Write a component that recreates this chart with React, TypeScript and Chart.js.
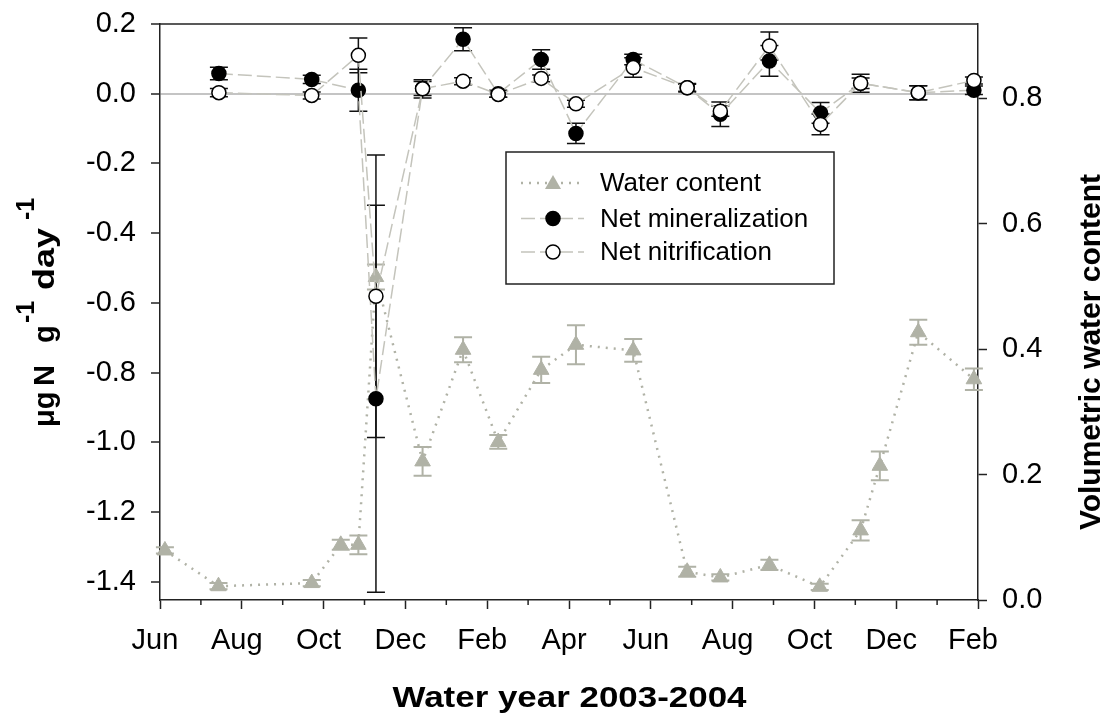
import React, { useEffect, useRef } from 'react';
import { Chart, registerables } from 'chart.js';

Chart.register(...registerables);

// x values are months since 1 June 2003
const monthLabels = ['Jun', 'Aug', 'Oct', 'Dec', 'Feb', 'Apr', 'Jun', 'Aug', 'Oct', 'Dec', 'Feb'];
const leftTicks = [-1.4, -1.2, -1.0, -0.8, -0.6, -0.4, -0.2, 0.0, 0.2];
const rightTicks = [0.0, 0.2, 0.4, 0.6, 0.8];

const nDates = [1.44, 3.71, 4.85, 5.28, 6.42, 7.41, 8.27, 9.32, 10.17, 11.57, 12.89, 13.7, 14.9, 16.15, 17.13, 18.54, 19.9];
const mineral = [0.058, 0.041, 0.01, -0.875, 0.015, 0.156, 0.0, 0.098, -0.114, 0.098, 0.017, -0.059, 0.094, -0.055, 0.03, 0.003, 0.01];
const mineralErr = [0.018, 0.012, 0.06, 0.555, 0.02, 0.033, 0.01, 0.028, 0.029, 0.015, 0.012, 0.035, 0.044, 0.03, 0.026, 0.02, 0.012];
const nitrif = [0.003, -0.005, 0.11, -0.581, 0.014, 0.036, -0.002, 0.044, -0.029, 0.075, 0.017, -0.05, 0.137, -0.088, 0.03, 0.003, 0.038];
const nitrifErr = [0.012, 0.01, 0.05, 0.405, 0.026, 0.01, 0.008, 0.01, 0.01, 0.028, 0.01, 0.015, 0.04, 0.03, 0.015, 0.02, 0.01];

const wDates = [0.12, 1.43, 3.71, 4.42, 4.85, 5.28, 6.42, 7.41, 8.27, 9.32, 10.17, 11.57, 12.89, 13.7, 14.9, 16.13, 17.13, 17.6, 18.54, 19.9];
const water = [0.079, 0.022, 0.027, 0.088, 0.088, 0.515, 0.221, 0.399, 0.252, 0.367, 0.407, 0.398, 0.045, 0.036, 0.056, 0.021, 0.111, 0.214, 0.427, 0.352];
const waterErr = [0.005, 0.005, 0.005, 0.008, 0.015, 0.02, 0.023, 0.02, 0.011, 0.021, 0.031, 0.018, 0.008, 0.005, 0.008, 0.005, 0.016, 0.023, 0.02, 0.017];

const FONT = "'Liberation Sans', Arial, sans-serif";
const GRAY = '#b0b2a6';
const DASHGRAY = '#c4c4bc';
const AXIS = '#222';

function fmt(v: number) {
  const r = Math.round(v * 10) / 10;
  return (Math.abs(r) < 1e-9 ? 0 : r).toFixed(1);
}

function fitBox(width?: number, height?: number) {
  return (s: any) => {
    if (width !== undefined) s.width = width;
    if (height !== undefined) s.height = height;
    s.paddingTop = 0;
    s.paddingBottom = 0;
    s.paddingLeft = 0;
    s.paddingRight = 0;
  };
}

export default function App() {
  const ref = useRef<HTMLCanvasElement>(null);

  useEffect(() => {
    const canvas = ref.current!;

    const plugin = {
      id: 'extras',
      beforeDatasetsDraw(chart: any) {
        const ctx = chart.ctx;
        const xs = chart.scales.x;
        const draw = (dx: number[], ys: number[], es: number[], scale: any, color: string, w: number) => {
          ctx.save();
          ctx.strokeStyle = color;
          ctx.lineWidth = w;
          dx.forEach((xv, i) => {
            const px = xs.getPixelForValue(xv);
            const t = scale.getPixelForValue(ys[i] + es[i]);
            const b = scale.getPixelForValue(ys[i] - es[i]);
            ctx.beginPath();
            ctx.moveTo(px, t); ctx.lineTo(px, b);
            ctx.moveTo(px - 9, t); ctx.lineTo(px + 9, t);
            ctx.moveTo(px - 9, b); ctx.lineTo(px + 9, b);
            ctx.stroke();
          });
          ctx.restore();
        };
        draw(wDates, water, waterErr, chart.scales.y2, GRAY, 2);
        draw(nDates, mineral, mineralErr, chart.scales.y, '#111', 1.5);
        draw(nDates, nitrif, nitrifErr, chart.scales.y, '#111', 1.5);
      },
      afterDraw(chart: any) {
        const ctx = chart.ctx;
        const { left, right, top, bottom } = chart.chartArea;
        const xs = chart.scales.x;
        ctx.save();
        // top frame
        ctx.strokeStyle = AXIS;
        ctx.lineWidth = 1.5;
        ctx.beginPath();
        ctx.moveTo(left, top); ctx.lineTo(right, top);
        ctx.stroke();
        // minor monthly ticks
        for (let m = 1; m < 20; m += 2) {
          const px = xs.getPixelForValue(m);
          ctx.beginPath();
          ctx.moveTo(px, bottom); ctx.lineTo(px, bottom + 5);
          ctx.stroke();
        }
        ctx.fillStyle = '#000';
        // x title
        ctx.font = `bold 30px ${FONT}`;
        ctx.textBaseline = 'alphabetic';
        ctx.textAlign = 'center';
        const xt = 'Water year 2003-2004';
        const w = ctx.measureText(xt).width;
        ctx.save();
        ctx.translate(569.5, 707);
        ctx.scale(354 / w, 1);
        ctx.fillText(xt, 0, 0);
        ctx.restore();
        // right title
        ctx.save();
        ctx.translate(1100, 352);
        ctx.rotate(-Math.PI / 2);
        ctx.font = `bold 30px ${FONT}`;
        ctx.textAlign = 'center';
        ctx.fillText('Volumetric water content', 0, 0);
        ctx.restore();
        // left title with superscripts
        ctx.save();
        ctx.translate(54, 427);
        ctx.rotate(-Math.PI / 2);
        ctx.textAlign = 'left';
        const pieces: [string, number, number, number][] = [
          ['μg', 0, 29, 0],
          ['N', 41, 29, 0],
          ['g', 84, 29, 0],
          ['-1', 104, 25, -20],
          ['day', 137, 29, 0],
          ['-1', 207, 25, -20],
        ];
        pieces.forEach(([t, off, sz, dy]) => {
          ctx.font = `bold ${sz}px ${FONT}`;
          if (t === 'day') {
            const dw = ctx.measureText(t).width;
            ctx.save();
            ctx.translate(off, dy);
            ctx.scale(62 / dw, 1);
            ctx.fillText(t, 0, 0);
            ctx.restore();
          } else {
            ctx.fillText(t, off, dy);
          }
        });
        ctx.restore();
        // legend
        const lx = 506, ly = 152, lw = 328, lh = 132;
        ctx.fillStyle = '#fff';
        ctx.fillRect(lx, ly, lw, lh);
        ctx.strokeStyle = AXIS;
        ctx.lineWidth = 1.5;
        ctx.strokeRect(lx, ly, lw, lh);
        const rows = [183, 218.5, 252];
        const labels = chart.data.datasets.map((d: any) => d.label);
        rows.forEach((ry, i) => {
          ctx.save();
          ctx.lineWidth = i === 0 ? 2.5 : 1.5;
          ctx.strokeStyle = i === 0 ? GRAY : DASHGRAY;
          ctx.setLineDash(i === 0 ? [2, 6] : [14, 5]);
          ctx.beginPath();
          ctx.moveTo(521, ry); ctx.lineTo(584, ry);
          ctx.stroke();
          ctx.restore();
          const cx = 553;
          ctx.beginPath();
          if (i === 0) {
            ctx.fillStyle = GRAY;
            ctx.moveTo(cx, ry - 8);
            ctx.lineTo(cx + 8, ry + 6);
            ctx.lineTo(cx - 8, ry + 6);
            ctx.closePath();
            ctx.fill();
          } else {
            ctx.arc(cx, ry, 7, 0, Math.PI * 2);
            ctx.fillStyle = i === 1 ? '#000' : '#fff';
            ctx.fill();
            ctx.strokeStyle = '#000';
            ctx.lineWidth = 1.5;
            ctx.stroke();
          }
          ctx.fillStyle = '#000';
          ctx.font = `26px ${FONT}`;
          ctx.textAlign = 'left';
          ctx.textBaseline = 'middle';
          ctx.fillText(labels[i], 600, ry + 1);
        });
        ctx.restore();
      },
    };

    const chart = new Chart(canvas, {
      type: 'line',
      data: {
        datasets: [
          {
            label: 'Water content',
            data: wDates.map((d, i) => ({ x: d, y: water[i] })),
            yAxisID: 'y2',
            borderColor: GRAY,
            backgroundColor: GRAY,
            borderWidth: 2.5,
            borderDash: [2, 6],
            pointStyle: 'triangle',
            pointRadius: 9,
            pointBorderWidth: 1,
            pointBackgroundColor: GRAY,
            pointBorderColor: GRAY,
            order: 2,
            clip: false,
          },
          {
            label: 'Net mineralization',
            data: nDates.map((d, i) => ({ x: d, y: mineral[i] })),
            yAxisID: 'y',
            borderColor: DASHGRAY,
            borderWidth: 1.5,
            borderDash: [14, 5],
            pointStyle: 'circle',
            pointRadius: 7,
            pointBorderWidth: 1.5,
            pointBackgroundColor: '#000',
            pointBorderColor: '#000',
            order: 1,
            clip: false,
          },
          {
            label: 'Net nitrification',
            data: nDates.map((d, i) => ({ x: d, y: nitrif[i] })),
            yAxisID: 'y',
            borderColor: DASHGRAY,
            borderWidth: 1.5,
            borderDash: [14, 5],
            pointStyle: 'circle',
            pointRadius: 7,
            pointBorderWidth: 1.5,
            pointBackgroundColor: '#fff',
            pointBorderColor: '#000',
            order: 0,
            clip: false,
          },
        ] as any,
      },
      options: {
        animation: false,
        responsive: false,
        maintainAspectRatio: false,
        layout: { padding: { top: 24, left: 0, right: 0, bottom: 0 } },
        plugins: { legend: { display: false }, tooltip: { enabled: false }, title: { display: false } },
        scales: {
          x: {
            type: 'linear',
            min: 0,
            max: 20,
            afterFit: fitBox(undefined, 123),
            afterBuildTicks: (s: any) => { s.ticks = monthLabels.map((_, i) => ({ value: i * 2 })); },
            ticks: {
              callback: (v: any) => monthLabels[Math.round(Number(v) / 2)],
              color: '#000',
              font: { family: FONT, size: 29 },
              padding: 15,
              labelOffset: -5,
              maxRotation: 0,
              autoSkip: false,
            },
            grid: { drawOnChartArea: false, tickLength: 9, tickColor: AXIS, tickWidth: 1.5 },
            border: { color: AXIS, width: 1.5 },
          },
          y: {
            type: 'linear',
            position: 'left',
            min: -1.4525,
            max: 0.2,
            afterFit: fitBox(160, undefined),
            afterBuildTicks: (s: any) => { s.ticks = leftTicks.map((v) => ({ value: v })); },
            ticks: {
              callback: (v: any) => fmt(Number(v)),
              color: '#000',
              font: { family: FONT, size: 29 },
              padding: 15,
            },
            grid: {
              color: (c: any) => (c.tick && Math.abs(c.tick.value) < 1e-9 ? '#c4c4c4' : 'rgba(0,0,0,0)'),
              lineWidth: 2,
              tickLength: 9,
              tickColor: AXIS,
              tickWidth: 1.5,
            },
            border: { color: AXIS, width: 1.5 },
          },
          y2: {
            type: 'linear',
            position: 'right',
            min: 0,
            max: 0.9185,
            afterFit: fitBox(132, undefined),
            afterBuildTicks: (s: any) => { s.ticks = rightTicks.map((v) => ({ value: v })); },
            ticks: {
              callback: (v: any) => fmt(Number(v)),
              color: '#000',
              font: { family: FONT, size: 29 },
              padding: 15,
            },
            grid: { drawOnChartArea: false, tickLength: 9, tickColor: AXIS, tickWidth: 1.5 },
            border: { color: AXIS, width: 1.5 },
          },
        },
      } as any,
      plugins: [plugin],
    });

    return () => chart.destroy();
  }, []);

  return (
    <div style={{ position: 'fixed', left: 0, top: 0, width: 1110, height: 723, background: '#fff' }}>
      <canvas ref={ref} width={1110} height={723} style={{ width: 1110, height: 723, display: 'block' }} />
    </div>
  );
}
